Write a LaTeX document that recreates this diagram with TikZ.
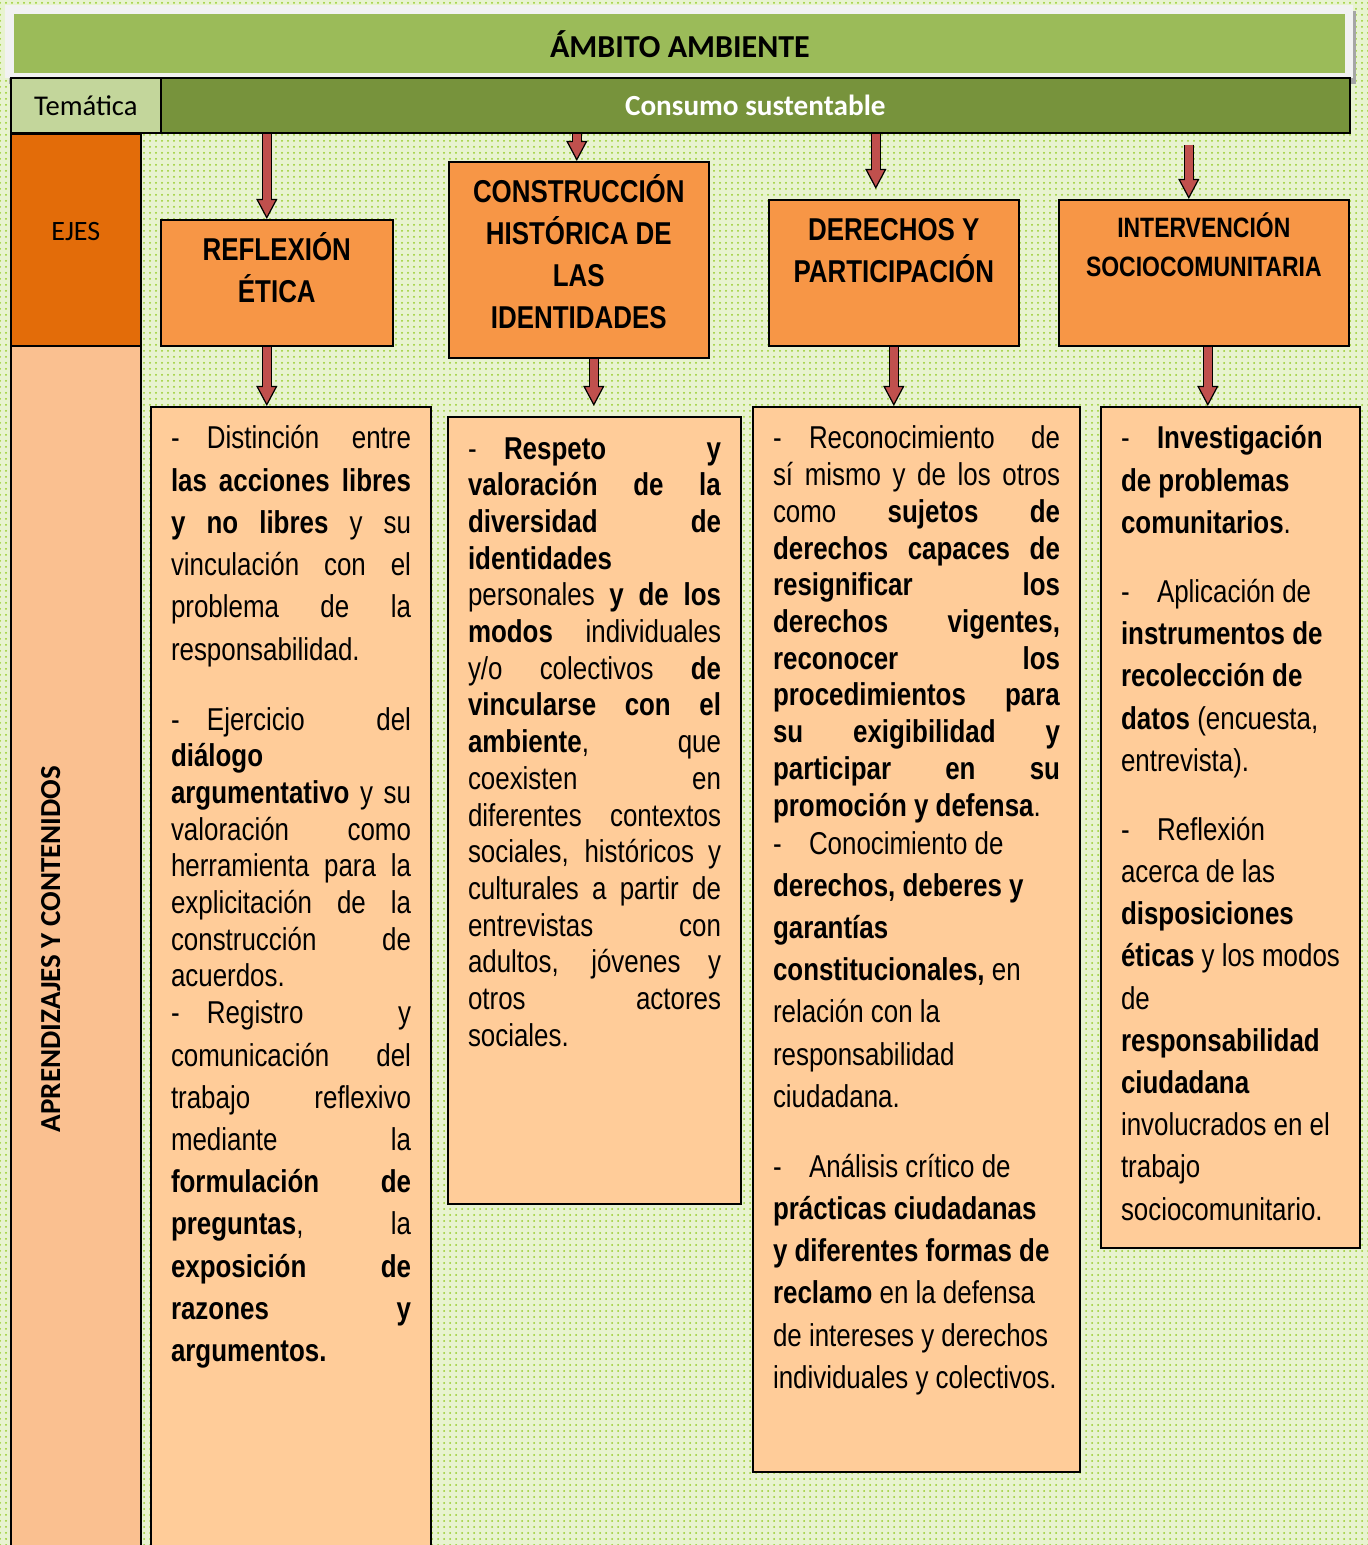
\documentclass[tikz,border=0pt]{standalone}
\usepackage{fontspec}
\setmainfont{Liberation Sans}[FakeStretch=0.82]
\newfontfamily\calibri{Carlito}
\usetikzlibrary{arrows.meta,patterns}

\definecolor{fondo}{RGB}{232,243,208}
\definecolor{punto}{RGB}{150,204,40}
\definecolor{marco}{RGB}{242,242,242}
\definecolor{verdeA}{RGB}{155,187,89}
\definecolor{verdeB}{RGB}{195,214,155}
\definecolor{verdeC}{RGB}{119,147,60}
\definecolor{naranjaA}{RGB}{227,108,9}
\definecolor{naranjaB}{RGB}{250,192,144}
\definecolor{naranjaC}{RGB}{247,150,70}
\definecolor{durazno}{RGB}{255,204,153}
\definecolor{rojo}{RGB}{192,80,77}

\newcommand{\cuerpo}{\fontsize{15.8}{18.35}\selectfont}
\newcommand{\cabeza}{\fontsize{15.8}{21}\selectfont\bfseries}
\newcommand{\guion}{\makebox[18pt][l]{-}}
\newcommand{\jline}[1]{\hbox to\linewidth{#1}}
\newcommand{\fline}[1]{\hbox{#1}}
\newcommand{\flecha}[2]{\draw[fl] #1 -- #2; \draw[fli] #1 -- #2;}

\begin{document}
\begin{tikzpicture}[x=0.5pt,y=-0.5pt]
\tikzstyle{titulo} = [anchor=north west,fill=verdeA,minimum width=665.5pt,minimum height=29.5pt,inner sep=0pt,font=\fontsize{16}{19}\selectfont\calibri\bfseries] %title
\tikzstyle{barra} = [anchor=north west,draw=black,line width=0.8pt,minimum height=27.5pt,inner sep=0pt,font=\fontsize{14.3}{17}\selectfont\calibri] %theme row
\tikzstyle{lado} = [anchor=north west,draw=black,line width=0.8pt,minimum width=65pt,inner sep=0pt,font=\fontsize{14}{17}\selectfont\calibri] %left column
\tikzstyle{eje} = [anchor=north west,draw=black,line width=0.8pt,fill=naranjaC,inner sep=0pt,font=\cabeza] %axis box
\tikzstyle{cont} = [anchor=north west,draw=black,line width=1pt,fill=durazno,inner xsep=10pt,inner ysep=0pt,font=\cuerpo] %content box
\tikzstyle{fl} = [line width=5pt,-{Triangle[width=10.5pt,length=10pt,fill=rojo,line width=0.6pt]}] %arrow outline
\tikzstyle{fli} = [line width=3.8pt,draw=rojo,shorten >=9pt] %arrow body

\useasboundingbox (0,0) rectangle (1368,1545);
\fill[fondo] (0,0) rectangle (1368,1545);
\fill[pattern=dots,pattern color=punto] (0,0) rectangle (1368,1545);

% title
\fill[black!35] (9,11) rectangle (1356,84);
\fill[marco] (5,5) rectangle (1353,78);
\node[titulo] (amb) at (14,14) {ÁMBITO AMBIENTE};
\node[barra,fill=verdeB,minimum width=75pt] (tem) at (10,77) {Temática};
\node[barra,fill=verdeC,minimum width=594.5pt,text=white,font=\fontsize{14.6}{17}\selectfont\calibri\bfseries] (cons) at (160,77) {Consumo sustentable};

% left column
\node[lado,fill=naranjaA] (ejes) at (10,133) {\parbox[t][106pt][t]{65pt}{\centering\rule{0pt}{53.5pt}EJES}};
\node[lado,fill=naranjaB,minimum height=607.5pt] (apr) at (10,345) {};
\node[rotate=90,anchor=base,font=\fontsize{14.5}{17}\selectfont\calibri\bfseries] (aprt) at (60,949) {APRENDIZAJES Y CONTENIDOS};

% axes
\node[eje] (e1) at (160,219) {\parbox[t][63pt][t]{116pt}{\centering\baselineskip=21pt\rule{0pt}{20.5pt}REFLEXIÓN\\ÉTICA}};
\node[eje] (e2) at (448,161) {\parbox[t][98pt][t]{130pt}{\centering\baselineskip=21pt\rule{0pt}{20.5pt}CONSTRUCCIÓN\\HISTÓRICA DE\\LAS\\IDENTIDADES}};
\node[eje] (e3) at (768,199) {\parbox[t][73pt][t]{125pt}{\centering\baselineskip=21pt\rule{0pt}{20.5pt}DERECHOS Y\\PARTICIPACIÓN}};
\node[eje,font=\fontsize{14}{19.5}\selectfont\bfseries] (e4) at (1058,199) {\parbox[t][73pt][t]{145pt}{\centering\baselineskip=19.5pt\rule{0pt}{19pt}INTERVENCIÓN\\SOCIOCOMUNITARIA}};

% contents
\node[cont] (c1) at (150,406) {\parbox[t][577pt][t]{120pt}{%
\baselineskip=21.1pt
\jline{\rule{0pt}{21pt}\guion Distinción entre}
\jline{\textbf{las acciones libres}}
\jline{\textbf{y no libres} y su}
\jline{vinculación con el}
\jline{problema de la}
\fline{responsabilidad.}
\baselineskip=18.35pt\vspace{16.65pt}
\jline{\guion Ejercicio del}
\fline{\textbf{diálogo}}
\jline{\textbf{argumentativo} y su}
\jline{valoración como}
\jline{herramienta para la}
\jline{explicitación de la}
\jline{construcción de}
\fline{acuerdos.}
\baselineskip=21.1pt\vspace{-2.6pt}
\jline{\guion Registro y}
\jline{comunicación del}
\jline{trabajo reflexivo}
\jline{mediante la}
\jline{\textbf{formulación de}}
\jline{\textbf{preguntas}, la}
\jline{\textbf{exposición de}}
\jline{\textbf{razones y}}
\fline{\textbf{argumentos.}}}};

\node[cont] (c2) at (447,416) {\parbox[t][393.5pt][t]{126.5pt}{%
\baselineskip=18.35pt
\jline{\rule{0pt}{21pt}\guion\textbf{Respeto y}}
\jline{\textbf{valoración de la}}
\jline{\textbf{diversidad de}}
\fline{\textbf{identidades}}
\jline{personales \textbf{y de los}}
\jline{\textbf{modos} individuales}
\jline{y/o colectivos \textbf{de}}
\jline{\textbf{vincularse con el}}
\jline{\textbf{ambiente}, que}
\jline{coexisten en}
\jline{diferentes contextos}
\jline{sociales, históricos y}
\jline{culturales a partir de}
\jline{entrevistas con}
\jline{adultos, jóvenes y}
\jline{otros actores}
\fline{sociales.}}};

\node[cont] (c3) at (752,406) {\parbox[t][532.5pt][t]{143.5pt}{%
\baselineskip=18.35pt
\jline{\rule{0pt}{21pt}\guion Reconocimiento de}
\jline{sí mismo y de los otros}
\jline{como \textbf{sujetos de}}
\jline{\textbf{derechos capaces de}}
\jline{\textbf{resignificar los}}
\jline{\textbf{derechos vigentes,}}
\jline{\textbf{reconocer los}}
\jline{\textbf{procedimientos para}}
\jline{\textbf{su exigibilidad y}}
\jline{\textbf{participar en su}}
\fline{\textbf{promoción y defensa}.}
\baselineskip=21.1pt\vspace{-2.1pt}
\fline{\guion Conocimiento de}
\fline{\textbf{derechos, deberes y}}
\fline{\textbf{garantías}}
\fline{\textbf{constitucionales,} en}
\fline{relación con la}
\fline{responsabilidad}
\fline{ciudadana.}
\vspace{13.9pt}
\fline{\guion Análisis crítico de}
\fline{\textbf{prácticas ciudadanas}}
\fline{\textbf{y diferentes formas de}}
\fline{\textbf{reclamo} en la defensa}
\fline{de intereses y derechos}
\fline{individuales y colectivos.}}};

\node[cont] (c4) at (1100,406) {\parbox[t][420.5pt][t]{113pt}{%
\baselineskip=21.1pt
\fline{\rule{0pt}{21pt}\guion\textbf{Investigación}}
\fline{\textbf{de problemas}}
\fline{\textbf{comunitarios}.}
\vspace{13.4pt}
\fline{\guion Aplicación de}
\fline{\textbf{instrumentos de}}
\fline{\textbf{recolección de}}
\fline{\textbf{datos} (encuesta,}
\fline{entrevista).}
\vspace{13.4pt}
\fline{\guion Reflexión}
\fline{acerca de las}
\fline{\textbf{disposiciones}}
\fline{\textbf{éticas} y los modos}
\fline{de}
\fline{\textbf{responsabilidad}}
\fline{\textbf{ciudadana}}
\fline{involucrados en el}
\fline{trabajo}
\fline{sociocomunitario.}}};

% arrows
\flecha{([xshift=-5pt]e1.north |- cons.south)}{([xshift=-5pt]e1.north)}
\flecha{([xshift=-1pt]e2.north |- cons.south)}{([xshift=-1pt]e2.north)}
\flecha{([xshift=-9pt]e3.north |- cons.south)}{([xshift=-9pt,yshift=5pt]e3.north)}
\flecha{([xshift=-7.5pt,yshift=-5.5pt]e4.north |- cons.south)}{([xshift=-7.5pt]e4.north)}
\flecha{([xshift=-5pt]e1.south)}{([xshift=-5pt]e1.south |- c1.north)}
\flecha{([xshift=7.5pt]e2.south)}{([xshift=7.5pt,yshift=5pt]e2.south |- c2.north)}
\flecha{(e3.south)}{(e3.south |- c3.north)}
\flecha{([xshift=2pt]e4.south)}{([xshift=2pt]e4.south |- c4.north)}
\end{tikzpicture}
\end{document}
